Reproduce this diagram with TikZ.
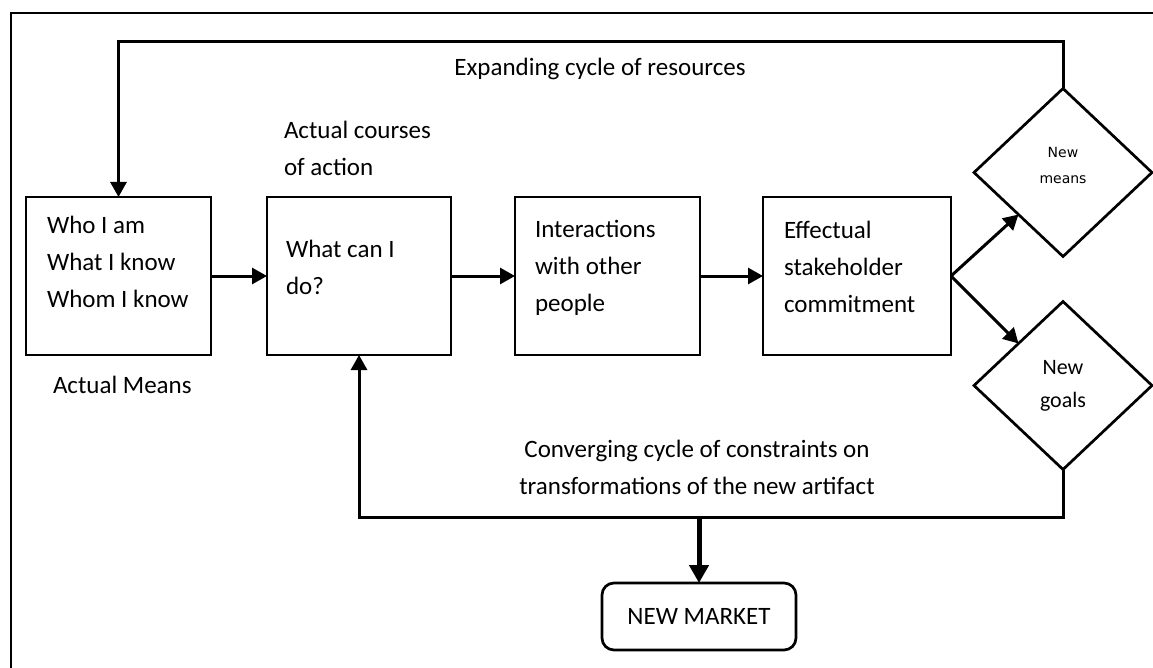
\documentclass[tikz,border=0pt]{standalone}
\usepackage{fontspec}
\setmainfont{Carlito}
\newfontfamily\dejavu{DejaVu Sans}
\usetikzlibrary{shapes.geometric,arrows.meta,calc}
\begin{document}
\begin{tikzpicture}[x=1pt,y=-1pt,
  line width=3pt,
  every node/.style={inner sep=0pt, outer sep=0pt},
  txt/.style={font=\fontsize{25}{37}\selectfont, align=left},
  stepbox/.style={draw, line width=2.7pt, minimum height=158pt},
  decide/.style={draw, diamond, line width=2.7pt, minimum width=178pt, minimum height=168pt},
  arr/.style={-{Triangle[length=15pt,width=16pt]}},
  bigarr/.style={line width=5pt,-{Triangle[length=18pt,width=19pt]}}
]
\useasboundingbox (0,0) rectangle (1153,668);
% frame
\draw[line width=2.7pt] (11,668) -- (11,13) -- (1153,13);

% boxes
\node[stepbox, minimum width=185pt] (b1) at (118.5,276) {};
\node[stepbox, minimum width=184pt] (b2) at (359,276) {};
\node[stepbox, minimum width=185pt] (b3) at (607.5,276) {};
\node[stepbox, minimum width=188pt] (b4) at (857,276) {};

\node[txt, anchor=west] (t1) at (47,261.5) {Who I am\\What I know\\Whom I know};
\node[txt, anchor=west] (t2) at (286,267) {What can I\\do?};
\node[txt, anchor=west] (t3) at (535,268) {Interactions\\with other\\people};
\node[txt, anchor=west] (t4) at (784,267) {Effectual\\stakeholder\\commitment};

% diamonds
\node[decide] (dm) at (1063,172.5) {};
\node[decide, font=\fontsize{22}{33}\selectfont, align=center] (dg) at (1063,385.5) {New\\goals};
\node[font=\dejavu\fontsize{14}{26}\selectfont, align=center] (dmt) at (1063,165) {New\\means};

% market
\node[draw, line width=2.7pt, rounded corners=12pt, minimum width=194pt, minimum height=67pt,
      font=\fontsize{25}{37}\selectfont] (mk) at (699,616.5) {NEW MARKET};

% labels
\node[txt, anchor=base] (lexp) at (600,76) {Expanding cycle of resources};
\node[txt, anchor=west] (lcourse) at (284,148) {Actual courses\\of action};
\node[txt, anchor=base west] (lmeans) at (53,393) {Actual Means};
\node[txt, align=center] (lconv) at (697,467) {Converging cycle of constraints on\\transformations of the new artifact};

% connectors
\draw[arr] (b1.east) -- (b2.west);
\draw[arr] (b2.east) -- (b3.west);
\draw[arr] (b3.east) -- (b4.west);
\draw[arr] (b4.east) -- ($(dm.west)!0.5!(dm.south)$);
\draw[arr] (b4.east) -- ($(dg.west)!0.5!(dg.north)$);
\draw[arr] (dm.north) -- ++(0,-47) -| (b1.north);
\draw[arr] (dg.south) -- ++(0,48) -| (b2.south);
\coordinate (junc) at (699,517);
\draw[bigarr] (junc) -- (mk.north);
\end{tikzpicture}
\end{document}
